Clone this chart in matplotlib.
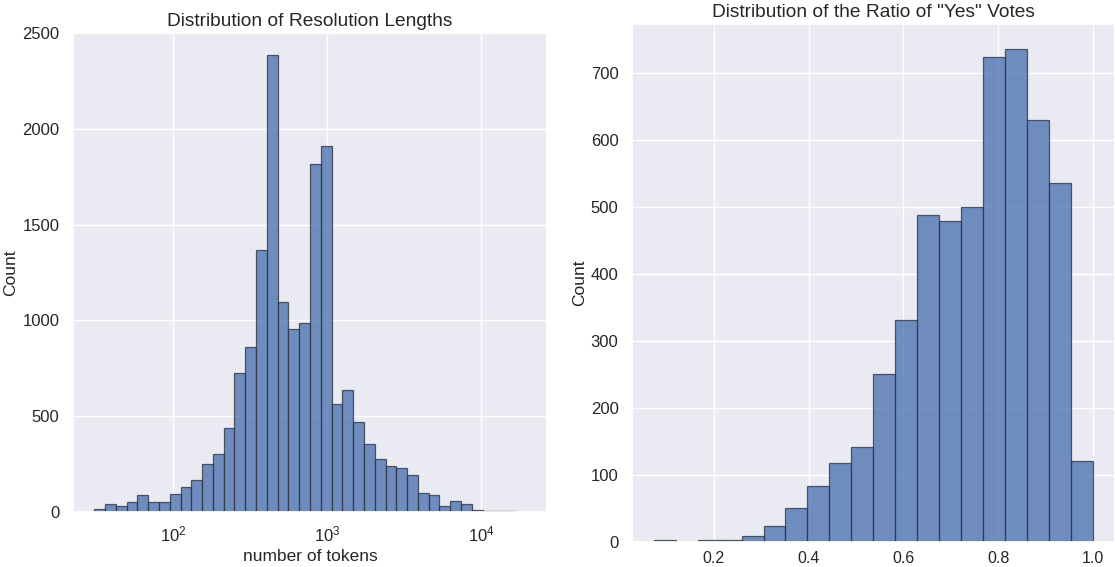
import numpy as np
import matplotlib
matplotlib.use("Agg")
import matplotlib.pyplot as plt
import seaborn as sns

sns.set_theme(style="darkgrid")
plt.rcParams['font.family'] = ['Liberation Sans', 'DejaVu Sans']

# Left panel: token length histogram (log-spaced bins)
token_log_range = (1.485, 4.29)   # log10 of min / max token counts
token_counts = [13, 38, 31, 51, 86, 49, 53, 91, 131, 166,
                248, 302, 435, 725, 862, 1370, 2385, 1097, 955, 984,
                1815, 1911, 565, 634, 468, 355, 277, 237, 230, 193,
                97, 87, 31, 56, 40, 7, 5, 5, 4, 1]

# Right panel: ratio of "yes" votes
ratio_range = (0.073, 1.0)
ratio_counts = [2, 0, 2, 2, 8, 24, 50, 84, 118, 141,
                251, 331, 488, 479, 501, 725, 737, 631, 536, 120]

W, H = 1115, 567
fig = plt.figure(figsize=(W / 100, H / 100), dpi=100)

bar_color = "#4C72B0"
edge_color = "#2e3440"
text_color = ".15"
tick_fs = 12
label_fs = 12.5
title_fs = 13.8

# ---- left ----
l1, r1, t1, b1 = 72.7, 547.3, 33.3, 511.7
ax1 = fig.add_axes([l1 / W, 1 - b1 / H, (r1 - l1) / W, (b1 - t1) / H])
edges1 = np.logspace(token_log_range[0], token_log_range[1], len(token_counts) + 1)
ax1.bar(edges1[:-1], token_counts, width=np.diff(edges1), align="edge",
        color=bar_color, alpha=0.78, edgecolor=edge_color, linewidth=0.9)
ax1.set_xscale("log")
ax1.set_ylim(0, 2500)
ax1.set_yticks([0, 500, 1000, 1500, 2000, 2500])
ax1.minorticks_off()
ax1.set_xticks([1e2, 1e3, 1e4])
ax1.set_title("Distribution of Resolution Lengths", fontsize=title_fs, color=text_color, pad=5)
ax1.set_xlabel("number of tokens", fontsize=label_fs, color=text_color, labelpad=3)
ax1.set_ylabel("Count", fontsize=label_fs, color=text_color)
ax1.yaxis.set_label_coords((18 - l1) / (r1 - l1), 0.5)
ax1.tick_params(labelsize=tick_fs, colors=text_color)

# ---- right ----
l2, r2, t2, b2 = 631.7, 1115, 24, 541.7
ax2 = fig.add_axes([l2 / W, 1 - b2 / H, (r2 - l2) / W, (b2 - t2) / H])
edges2 = np.linspace(ratio_range[0], ratio_range[1], len(ratio_counts) + 1)
ax2.bar(edges2[:-1], ratio_counts, width=np.diff(edges2), align="edge",
        color=bar_color, alpha=0.78, edgecolor=edge_color, linewidth=0.9)
ax2.set_xticks([0.2, 0.4, 0.6, 0.8, 1.0])
ax2.set_yticks(range(0, 800, 100))
ax2.set_title('Distribution of the Ratio of "Yes" Votes', fontsize=title_fs, color=text_color, pad=5)
ax2.set_ylabel("Count", fontsize=label_fs, color=text_color)
ax2.yaxis.set_label_coords((587 - l2) / (r2 - l2), 0.5)
ax2.tick_params(labelsize=tick_fs, colors=text_color)
ax2.tick_params(axis="x", pad=1, labelsize=11.5)

fig.savefig("out.png", dpi=100)
